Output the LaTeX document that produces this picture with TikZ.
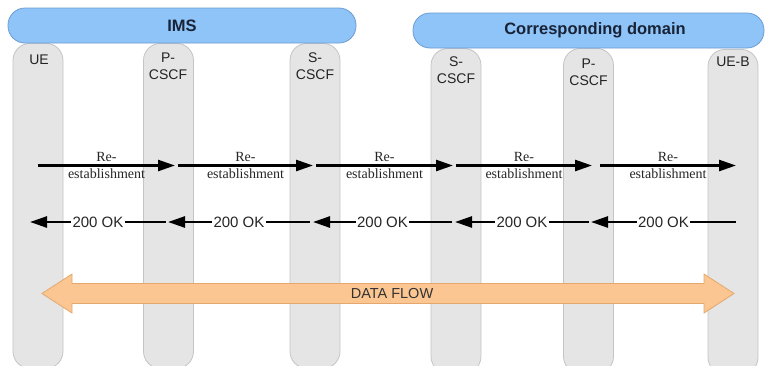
\documentclass[tikz,border=0pt]{standalone}
\usepackage{fontspec}
\setmainfont{Liberation Serif}
\setsansfont{Liberation Sans}
\usetikzlibrary{arrows.meta}

\definecolor{barblue}{RGB}{142,196,247}
\definecolor{barline}{RGB}{110,156,210}
\definecolor{lanefill}{RGB}{229,229,229}
\definecolor{laneline}{RGB}{196,196,196}
\definecolor{flowfill}{RGB}{251,198,146}
\definecolor{flowline}{RGB}{228,168,110}
\definecolor{titletext}{RGB}{25,35,55}
\definecolor{lanetext}{RGB}{35,35,35}

\begin{document}
\begin{tikzpicture}[x=1pt,y=-1pt,
  lane/.style={draw=laneline, fill=lanefill, line width=0.8pt,
    rounded corners=17pt, minimum width=50pt, minimum height=325pt,
    anchor=north, inner sep=0pt},
  domainbar/.style={draw=barline, fill=barblue, line width=0.8pt,
    rounded corners=17pt, minimum height=35pt, inner sep=0pt},
  bartitle/.style={font=\sffamily\bfseries\fontsize{16.5}{18}\selectfont, text=titletext},
  lanelabel/.style={font=\sffamily\fontsize{14}{17}\selectfont, text=lanetext,
    align=center, anchor=north, inner sep=0pt},
  msg/.style={line width=2.5pt, -{Triangle[length=17pt,width=11pt]}},
  reqlabel/.style={font=\fontsize{14}{17}\selectfont, text=black!85, align=center, inner sep=0pt},
  oklabel/.style={font=\sffamily\fontsize{15}{17}\selectfont, text=black!85, fill=white, inner sep=1.5pt},
  flowlabel/.style={font=\sffamily\fontsize{14.5}{16}\selectfont, text=black!80, inner sep=0pt},
]
\useasboundingbox (0,0) rectangle (766,365);

% swim lanes
\node[lane] (ue)  at (38,43)  {};
\node[lane] (pl)  at (168.5,43) {};
\node[lane] (sl)  at (315,43) {};
\node[lane] (sr)  at (456,48) {};
\node[lane] (pr)  at (588.5,48) {};
\node[lane] (ueb) at (733,49) {};

% domain bars
\node[domainbar, minimum width=348pt] (ims) at (182,25.5) {};
\node[bartitle] (imst) at (182,25.5) {IMS};
\node[domainbar, minimum width=351pt] (cd) at (588.5,30.5) {};
\node[bartitle] (cdt) at (595,30.5) {Corresponding domain};

% lane labels
\node[lanelabel] (uet)  at (39,55)    {UE};
\node[lanelabel] (plt)  at (168,53)   {P-\\CSCF};
\node[lanelabel] (slt)  at (315,53)   {S-\\CSCF};
\node[lanelabel] (srt)  at (456,57)   {S-\\CSCF};
\node[lanelabel] (prt)  at (588.5,59) {P-\\CSCF};
\node[lanelabel] (uebt) at (733,57)   {UE-B};

% request hops
\coordinate (r1a) at (38,165.5);  \coordinate (r1b) at (175,165.5);
\coordinate (r2a) at (178,165.5); \coordinate (r2b) at (313,165.5);
\coordinate (r3a) at (316,165.5); \coordinate (r3b) at (453,165.5);
\coordinate (r4a) at (456,165.5); \coordinate (r4b) at (592,165.5);
\coordinate (r5a) at (600,165.5); \coordinate (r5b) at (736,165.5);
\foreach \i in {1,...,5}
  \draw[msg] (r\i a) -- node[reqlabel] {Re-\\establishment} (r\i b);

% response hops
\coordinate (o5a) at (736,222); \coordinate (o5b) at (591,222);
\coordinate (o4a) at (589,222); \coordinate (o4b) at (455,222);
\coordinate (o3a) at (452,222); \coordinate (o3b) at (313,222);
\coordinate (o2a) at (310,222); \coordinate (o2b) at (168,222);
\coordinate (o1a) at (166,222); \coordinate (o1b) at (30,222);
\foreach \i in {1,...,5}
  \draw[msg] (o\i a) -- node[oklabel] {200 OK} (o\i b);

% data flow double arrow
\draw[draw=flowline, fill=flowfill, line width=0.8pt, line join=miter]
  (42,293.5) -- (72,274) -- (72,283.5) -- (704,283.5) -- (704,274)
  -- (734,293.5) -- (704,313) -- (704,303.5) -- (72,303.5) -- (72,313) -- cycle;
\node[flowlabel] (df) at (392,294) {DATA FLOW};
\end{tikzpicture}
\end{document}
